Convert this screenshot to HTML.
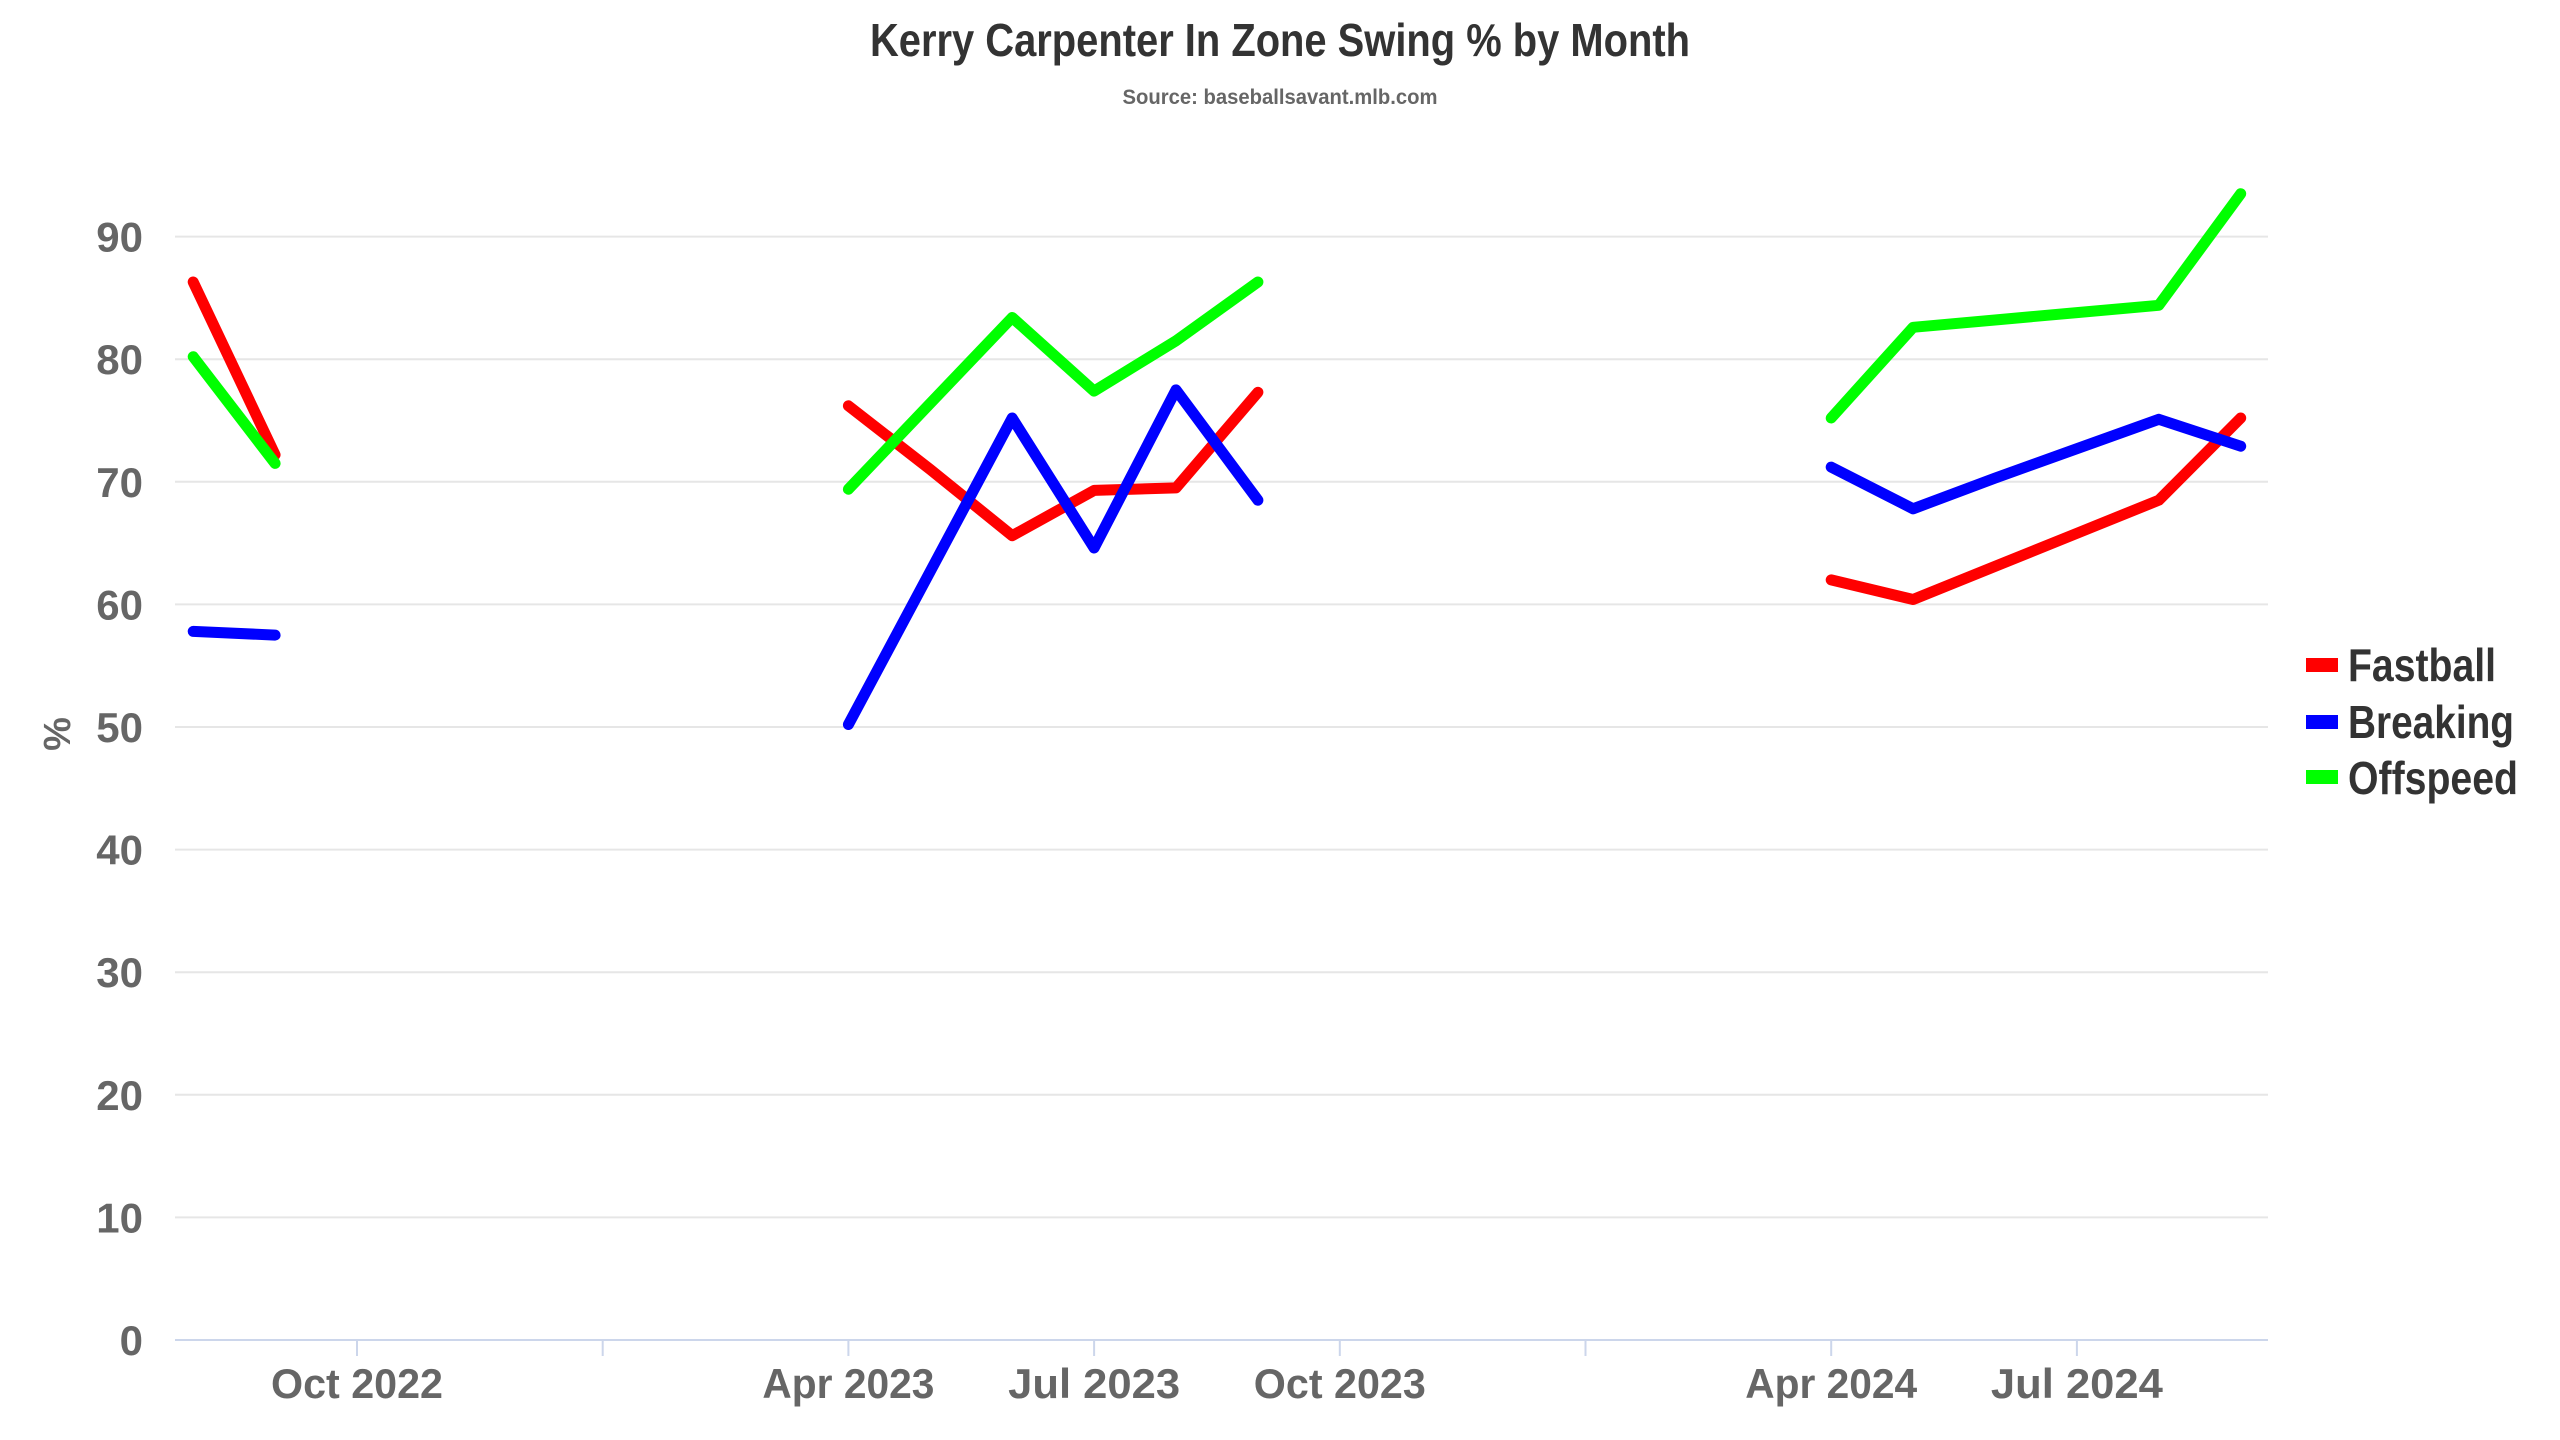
<!DOCTYPE html>
<html><head><meta charset="utf-8"><style>
html,body{margin:0;padding:0;background:#fff;}
svg{display:block;font-family:"Liberation Sans Narrow","Liberation Sans",sans-serif;font-weight:bold;}
</style></head><body>
<svg id="c" width="2560" height="1440" viewBox="0 0 2560 1440" xmlns="http://www.w3.org/2000/svg">
<rect width="2560" height="1440" fill="#fff"/>
<text x="1280" y="56" text-anchor="middle" font-size="46" fill="#333" textLength="820" lengthAdjust="spacingAndGlyphs">Kerry Carpenter In Zone Swing % by Month</text>
<text x="1280" y="104" text-anchor="middle" font-size="21" fill="#666" textLength="315" lengthAdjust="spacingAndGlyphs">Source: baseballsavant.mlb.com</text>
<g id="grid"></g>
<g id="series" fill="none" stroke-width="11" stroke-linecap="round" stroke-linejoin="round"></g>
<text x="0" y="0" transform="translate(70,734) rotate(-90)" text-anchor="middle" font-size="38" fill="#666">%</text>
<g font-size="46" fill="#333">
<rect x="2306" y="658" width="32" height="14" fill="#f00"/>
<text x="2348" y="681" textLength="148" lengthAdjust="spacingAndGlyphs">Fastball</text>
<rect x="2306" y="715" width="32" height="14" fill="#00f"/>
<text x="2348" y="738" textLength="166" lengthAdjust="spacingAndGlyphs">Breaking</text>
<rect x="2306" y="770" width="32" height="14" fill="#0f0"/>
<text x="2348" y="794" textLength="170" lengthAdjust="spacingAndGlyphs">Offspeed</text>
</g>
</svg>
<script>
var NS="http://www.w3.org/2000/svg";
var L=175,R=2268,Y0=1340,PER=12.26;
function y(v){return Y0-v*PER;}
function x(m){return 357+m*81.9;}
var g=document.getElementById('grid');
function el(t,a,p){var e=document.createElementNS(NS,t);for(var k in a)e.setAttribute(k,a[k]);(p||g).appendChild(e);return e;}
for(var v=10;v<=90;v+=10){el('line',{x1:L,x2:R,y1:y(v),y2:y(v),stroke:'#e6e6e6','stroke-width':2});}
for(var v=0;v<=90;v+=10){var t=el('text',{x:143,y:y(v)+15,'text-anchor':'end','font-size':42,fill:'#666'});t.textContent=v;}
el('line',{x1:L,x2:R,y1:Y0,y2:Y0,stroke:'#ccd6eb','stroke-width':2});
[0,3,6,9,12,15,18,21].forEach(function(m){el('line',{x1:x(m),x2:x(m),y1:Y0,y2:Y0+16,stroke:'#ccd6eb','stroke-width':2});});
var labs=[[0,'Oct 2022'],[6,'Apr 2023'],[9,'Jul 2023'],[12,'Oct 2023'],[18,'Apr 2024'],[21,'Jul 2024']];
labs.forEach(function(l){var t=el('text',{x:x(l[0]),y:1398,'text-anchor':'middle','font-size':42,fill:'#666',textLength:172,lengthAdjust:'spacingAndGlyphs'});t.textContent=l[1];});
var S=document.getElementById('series');
var data={
'#f00':[[[-2,86.3],[-1,72.2]],[[6,76.2],[7,71],[8,65.6],[9,69.3],[10,69.5],[11,77.3]],[[18,62],[19,60.4],[20,63.1],[21,65.8],[22,68.5],[23,75.2]]],
'#00f':[[[-2,57.8],[-1,57.5]],[[6,50.2],[7,62.7],[8,75.2],[9,64.6],[10,77.5],[11,68.5]],[[18,71.2],[19,67.8],[20,70.3],[21,72.7],[22,75.1],[23,72.9]]],
'#0f0':[[[-2,80.2],[-1,71.5]],[[6,69.4],[7,76.4],[8,83.4],[9,77.4],[10,81.5],[11,86.3]],[[18,75.2],[19,82.6],[20,83.2],[21,83.8],[22,84.4],[23,93.5]]]
};
for(var c in data){data[c].forEach(function(seg){var d=seg.map(function(p,i){return (i?'L':'M')+x(p[0]).toFixed(1)+' '+y(p[1]).toFixed(1);}).join(' ');el('path',{d:d,stroke:c},S);});}
</script>
</body></html>
